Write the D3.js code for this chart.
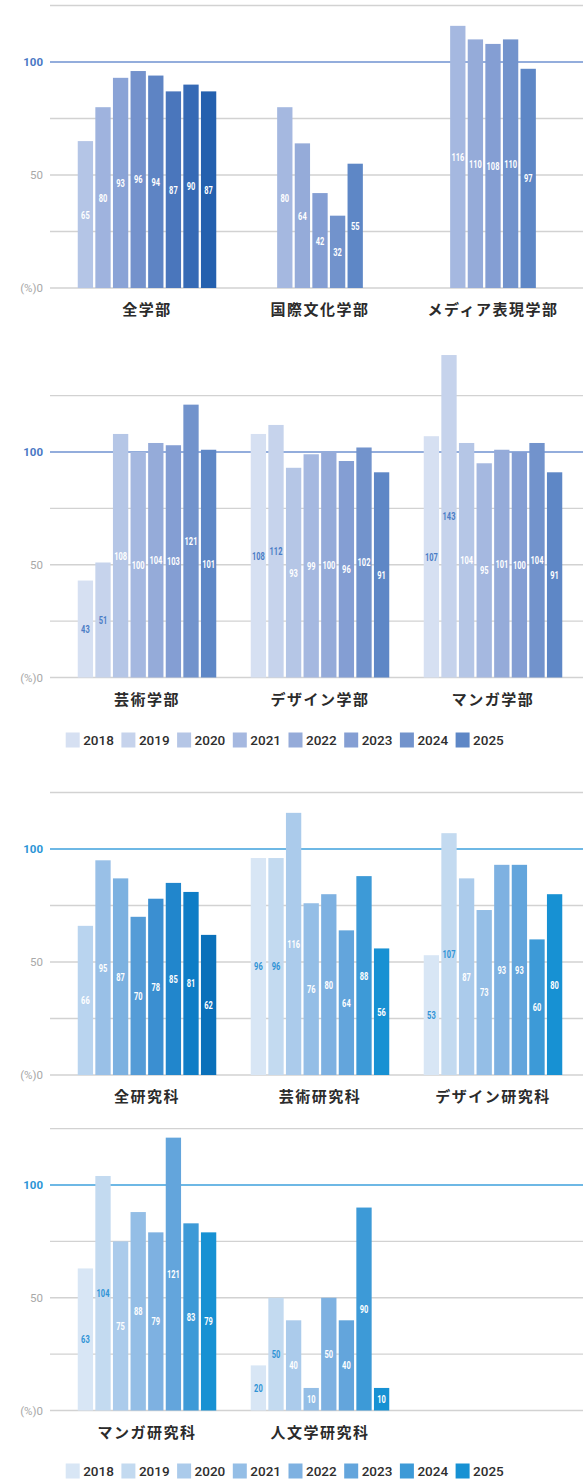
<!DOCTYPE html>
<html><head><meta charset="utf-8">
<script src="https://cdn.jsdelivr.net/npm/d3@7"></script>
<style>body{margin:0;background:#fff}svg{display:block}</style>
</head><body>
<svg id="chart" width="583" height="1479"></svg>
<script>
// ---- data ----
const years = ["2018","2019","2020","2021","2022","2023","2024","2025"];
const gridValues = [0,25,50,75,100,125];
const tickValues = [0,50,100];
const tickLabels = ["(%)0","50","100"];

const facultyGroupsA = ["全学部","国際文化学部","メディア表現学部"];
const facultyValuesA = [
  [65,80,93,96,94,87,90,87],
  [null,null,null,80,64,42,32,55],
  [null,null,null,116,110,108,110,97]
];
const facultyGroupsB = ["芸術学部","デザイン学部","マンガ学部"];
const facultyValuesB = [
  [43,51,108,100,104,103,121,101],
  [108,112,93,99,100,96,102,91],
  [107,143,104,95,101,100,104,91]
];
const gradGroupsA = ["全研究科","芸術研究科","デザイン研究科"];
const gradValuesA = [
  [66,95,87,70,78,85,81,62],
  [96,96,116,76,80,64,88,56],
  [53,107,87,73,93,93,60,80]
];
const gradGroupsB = ["マンガ研究科","人文学研究科",""];
const gradValuesB = [
  [63,104,75,88,79,121,83,79],
  [20,50,40,10,50,40,90,10],
  [null,null,null,null,null,null,null,null]
];

// ---- styles ----
const themes = {
  purple: {
    palette: ["#d6e0f2","#c6d3ec","#b5c6e6","#a5b8e0","#95abd9","#849ed3","#7293cc","#5e87c6"],
    total:   ["#b4c5e6","#9fb3de","#8aa3d6","#7492cc","#5e84c4","#4a76bc","#366ab5","#2460ae"],
    accent: "#6f92d1", tick: "#4a78c4", lightLabel: "#4b7dc6"
  },
  cyan: {
    palette: ["#d8e6f5","#c3daf0","#abcbeb","#94bee6","#7eb1e1","#63a5dc","#3d9ad7","#1791d3"],
    total:   ["#b9d4ef","#99c0e7","#7cb1e0","#559cd7","#3b8fd1","#2186cc","#0e7dc6","#0a70ba"],
    accent: "#3ea0dc", tick: "#2b95d6", lightLabel: "#2f93d5"
  }
};

const panels = [
  {groups: facultyGroupsA, values: facultyValuesA, y0: 288,   y100: 62,   theme: "purple", totalFirst: true},
  {groups: facultyGroupsB, values: facultyValuesB, y0: 677.5, y100: 452,  theme: "purple", totalFirst: false},
  {groups: gradGroupsA,    values: gradValuesA,    y0: 1075,  y100: 849,  theme: "cyan",   totalFirst: true},
  {groups: gradGroupsB,    values: gradValuesB,    y0: 1410.5,y100: 1185, theme: "cyan",   totalFirst: false}
];
const legends = [{y: 740, theme: "purple"}, {y: 1471, theme: "cyan"}];

const svg = d3.select("#chart");
const gridLeft = 50, gridRight = 583;
const x = d3.scaleBand().domain([0,1,2]).range([60.5, 579.5]);
const slot = 17.6;

panels.forEach(p => {
  const th = themes[p.theme];
  const y = d3.scaleLinear().domain([0,100]).range([p.y0, p.y100]);
  const g = svg.append("g");

  // grid
  g.selectAll("line.grid").data(gridValues).join("line")
    .attr("x1", gridLeft).attr("x2", gridRight)
    .attr("y1", d => y(d)).attr("y2", d => y(d))
    .attr("stroke", d => d === 100 ? th.accent : "#d2d2d2")
    .attr("stroke-width", d => d === 100 ? 1.6 : 1.4);

  // y labels
  g.selectAll("text.tick").data(tickValues).join("text")
    .attr("x", 43).attr("y", d => y(d))
    .attr("dy", "0.36em")
    .attr("text-anchor", "end")
    .attr("font-family", "Roboto, 'Noto Sans', sans-serif")
    .attr("font-size", d => d === 100 ? 11.5 : 11.5)
    .attr("font-weight", d => d === 100 ? 700 : 400)
    .attr("fill", d => d === 100 ? th.tick : "#a8a8a8")
    .text((d,i) => tickLabels[i]);

  p.groups.forEach((name, gi) => {
    const present = years.map((yr,i) => ({yr, i, v: p.values[gi][i]})).filter(d => d.v != null);
    const cx = x(gi) + x.bandwidth()/2;
    const n = present.length;
    const sub = d3.scaleBand().domain(present.map(d => d.yr))
      .range([cx - n*slot/2, cx + n*slot/2]).paddingInner(0.13).paddingOuter(0.065);
    const colors = (p.totalFirst && gi === 0) ? th.total : th.palette;
    const isLight = d => !(p.totalFirst && gi === 0) && d.i <= 1;

    g.selectAll(null).data(present).join("rect")
      .attr("x", d => sub(d.yr)).attr("width", sub.bandwidth())
      .attr("y", d => y(d.v)).attr("height", d => y(0) - y(d.v))
      .attr("fill", d => colors[d.i]);

    g.selectAll(null).data(present).join("text")
      .attr("transform", d => `translate(${sub(d.yr) + sub.bandwidth()/2},${(y(d.v)+y(0))/2}) scale(0.68,1)`)
      .attr("dy", "0.36em")
      .attr("text-anchor", "middle")
      .attr("font-family", "Roboto, 'Noto Sans', sans-serif")
      .attr("font-size", 11)
      .attr("font-weight", 700)
      .attr("fill", d => isLight(d) ? th.lightLabel : "#ffffff")
      .text(d => d.v);

    if (name) {
      g.append("text")
        .attr("x", cx).attr("y", p.y0 + 22)
        .attr("dy", "0.36em")
        .attr("text-anchor", "middle")
        .attr("font-family", "'Noto Sans CJK JP', sans-serif")
        .attr("font-size", 15)
        .attr("font-weight", 700)
        .attr("letter-spacing", 1.5)
        .attr("fill", "#2b2b2b")
        .text(name);
    }
  });
});

// legends
const lx = d3.scaleBand().domain(years).range([65.7, 65.7 + 55.7*8]);
legends.forEach(L => {
  const th = themes[L.theme];
  const g = svg.append("g");
  g.selectAll("rect").data(years).join("rect")
    .attr("x", d => lx(d)).attr("y", L.y - 7.5)
    .attr("width", 14).attr("height", 15)
    .attr("fill", (d,i) => th.palette[i]);
  g.selectAll("text").data(years).join("text")
    .attr("x", d => lx(d) + 17.5).attr("y", L.y)
    .attr("dy", "0.36em")
    .attr("font-family", "Roboto, 'Noto Sans', sans-serif")
    .attr("font-size", 13.5)
    .attr("font-weight", 500)
    .attr("fill", "#2e2e2e")
    .text(d => d);
});
</script>
</body></html>
